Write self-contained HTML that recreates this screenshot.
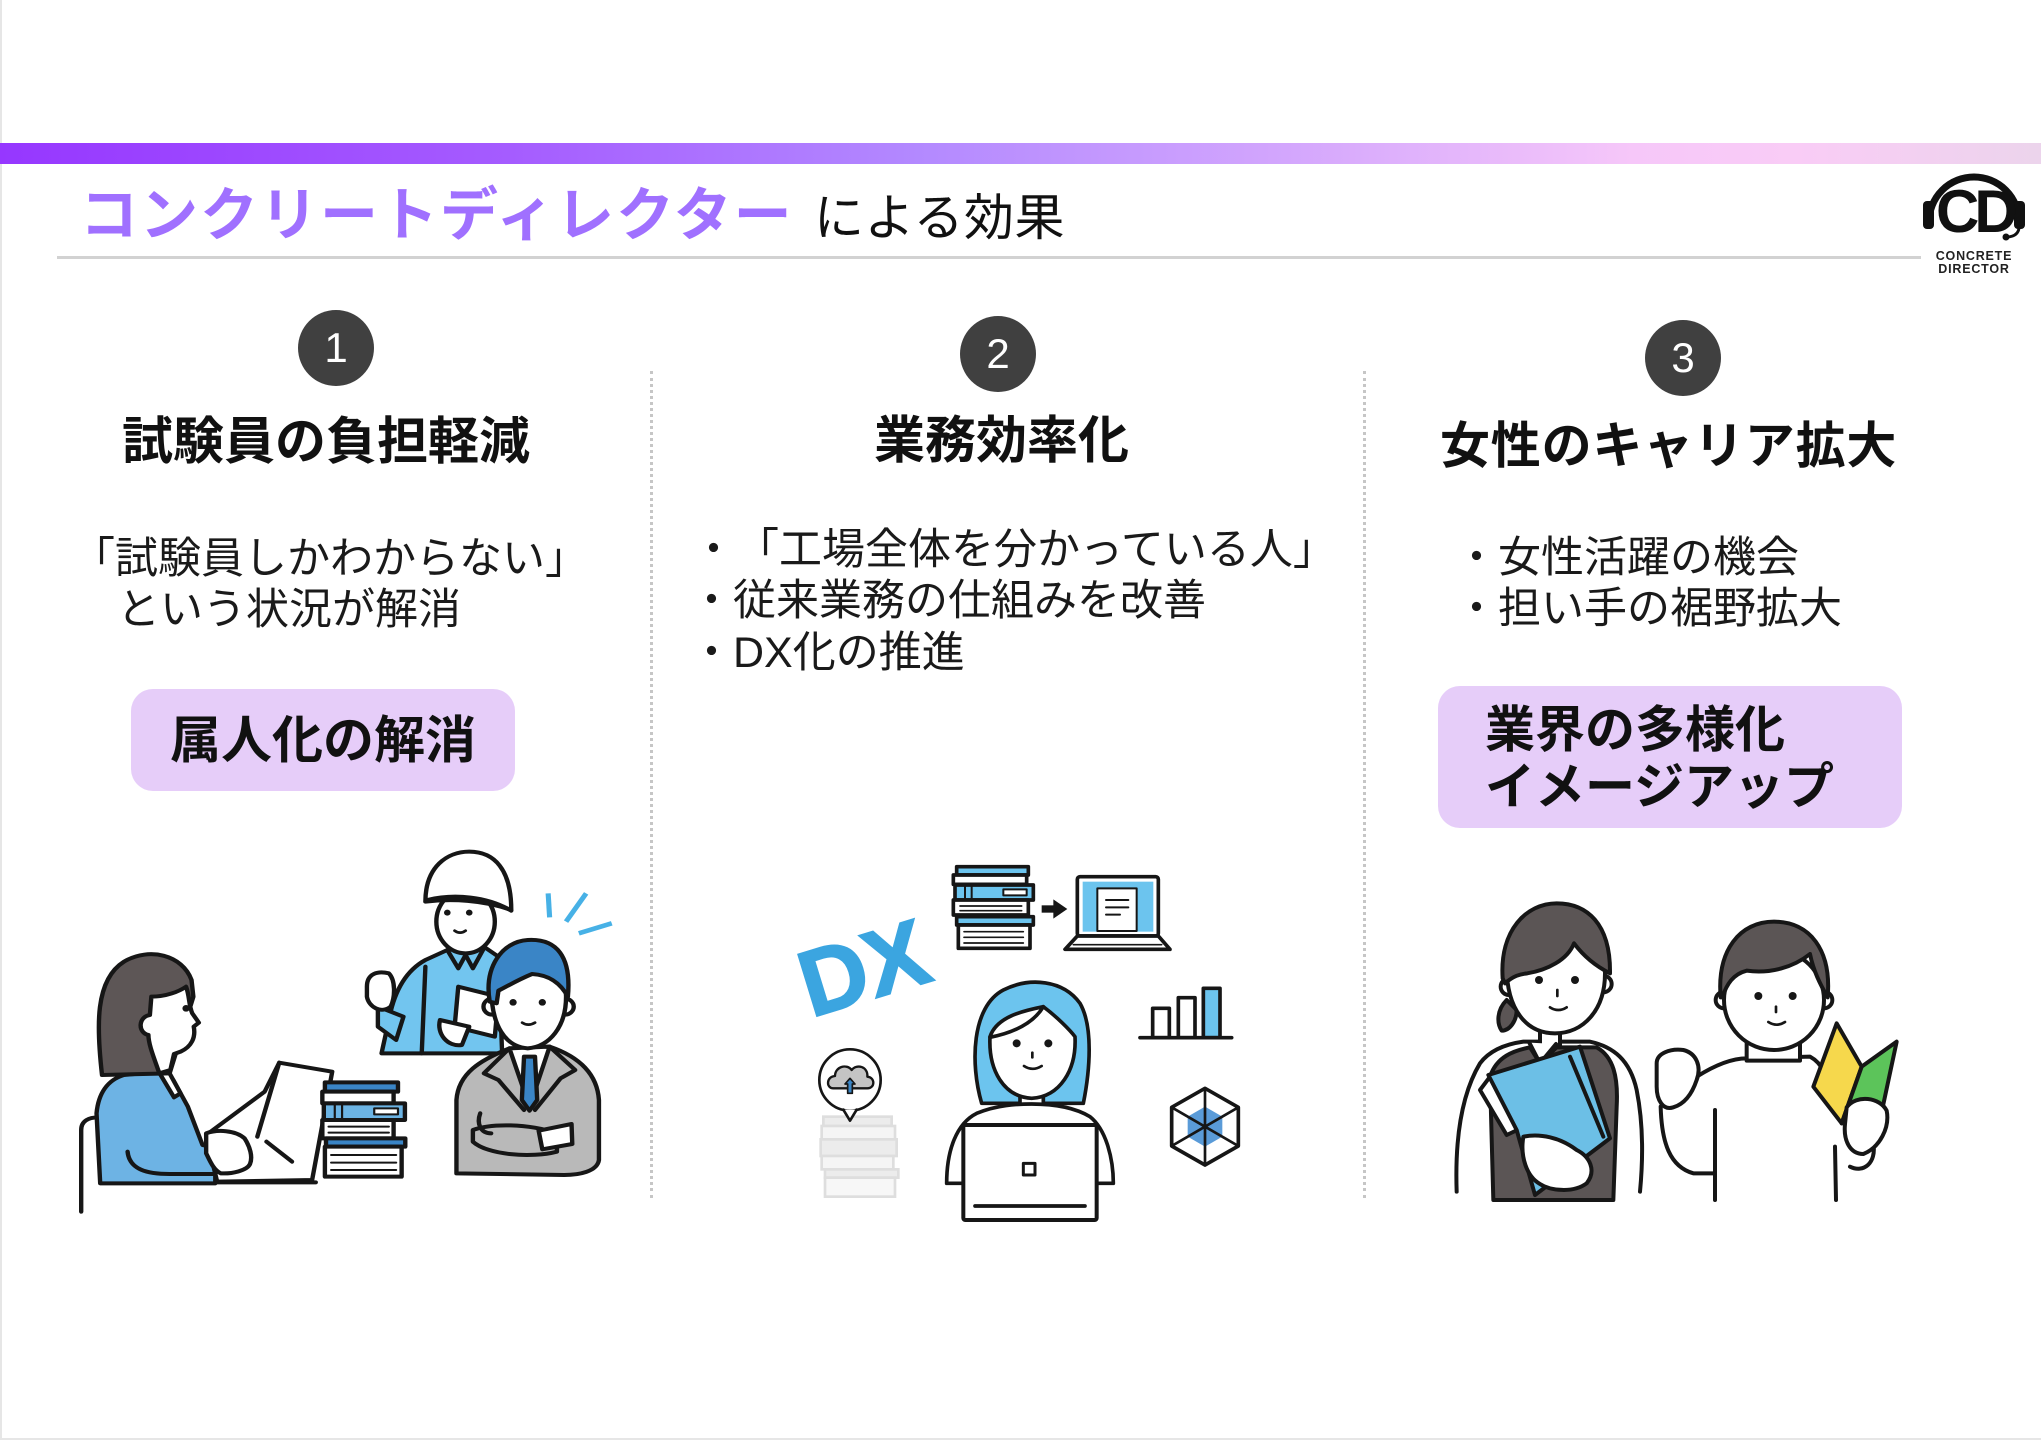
<!DOCTYPE html>
<html lang="ja">
<head>
<meta charset="utf-8">
<style>
  html,body{margin:0;padding:0;background:#fff;}
  body{width:2041px;height:1440px;position:relative;overflow:hidden;
       font-family:"Liberation Sans","Noto Sans CJK JP",sans-serif;color:#1a1a1a;}
  .abs{position:absolute;white-space:nowrap;line-height:1;}
  .bar{position:absolute;left:0;top:143px;width:2041px;height:21px;
       background:linear-gradient(90deg,#9637ff 0%,#a55cff 25%,#b389ff 45%,#d3a6fd 63%,#f6c7f9 80%,#f9ccf6 88%,#ecd4ec 100%);}
  .rule{position:absolute;left:57px;top:256px;width:1864px;height:3px;background:#d2d2d2;}
  .circ{position:absolute;width:76px;height:76px;border-radius:50%;background:#404040;color:#fff;
        font-family:"Liberation Sans",sans-serif;font-size:42px;line-height:76px;text-align:center;}
  .h{font-size:50px;font-weight:700;color:#111;}
  .t{font-size:43px;font-weight:400;color:#1a1a1a;}
  .pill{position:absolute;background:#e6cdf9;border-radius:22px;}
  .div{position:absolute;top:371px;height:827px;border-left:3px dotted #c6c6c6;}
</style>
</head>
<body>
<div style="position:absolute;left:0;top:0;width:2px;height:1440px;background:#e6e6e6;"></div>
<div style="position:absolute;left:0;top:1438px;width:2041px;height:2px;background:#e6e6e6;"></div>

<div class="bar"></div>

<div class="abs" style="left:80px;top:187px;font-size:58px;font-weight:700;color:#a070ff;letter-spacing:2px;">コンクリートディレクター</div>
<div class="abs" style="left:814px;top:193px;font-size:50px;font-weight:400;color:#111;letter-spacing:0.5px;">による効果</div>
<div class="rule"></div>

<!-- logo -->
<svg style="position:absolute;left:0;top:0" width="2041" height="1440" viewBox="0 0 2041 1440">
  <path d="M1929,222 A45,45 0 0 1 2019,222" fill="none" stroke="#111" stroke-width="7"/>
  <rect x="1923" y="201" width="11" height="28" rx="4" fill="#111"/>
  <rect x="2014" y="201" width="11" height="28" rx="4" fill="#111"/>
  <text x="1936" y="232" font-family="Liberation Sans" font-weight="700" font-size="60" letter-spacing="-5" fill="#111">CD</text>
  <path d="M2019,228 Q2018,236 2008,237" fill="none" stroke="#111" stroke-width="3"/>
  <circle cx="2006" cy="237" r="3.5" fill="#111"/>
  <text x="1974" y="260" text-anchor="middle" font-family="Liberation Sans" font-weight="700" font-size="12.5" letter-spacing="0.8" fill="#222">CONCRETE</text>
  <text x="1974" y="273" text-anchor="middle" font-family="Liberation Sans" font-weight="700" font-size="12.5" letter-spacing="0.8" fill="#222">DIRECTOR</text>
</svg>

<!-- dividers -->
<div class="div" style="left:650px;"></div>
<div class="div" style="left:1363px;"></div>

<!-- column 1 -->
<div class="circ" style="left:298px;top:310px;">1</div>
<div class="abs h" style="left:122px;top:416px;font-size:51px;">試験員の負担軽減</div>
<div class="abs t" style="left:72px;top:538px;">「試験員しかわからない」</div>
<div class="abs t" style="left:117px;top:589px;">という状況が解消</div>
<div class="pill" style="left:131px;top:689px;width:384px;height:102px;"></div>
<div class="abs h" style="left:170px;top:715px;font-size:51px;">属人化の解消</div>

<!-- column 2 -->
<div class="circ" style="left:960px;top:316px;">2</div>
<div class="abs h" style="left:874px;top:415px;font-size:51px;">業務効率化</div>
<div class="abs t" style="left:692px;top:529px;">・<span style="display:inline-block;width:1px;"></span>「工場全体を分かっている人」</div>
<div class="abs t" style="left:690px;top:580px;">・従来業務の仕組みを改善</div>
<div class="abs t" style="left:690px;top:632px;">・DX化の推進</div>

<!-- column 3 -->
<div class="circ" style="left:1645px;top:320px;">3</div>
<div class="abs h" style="left:1440px;top:421px;letter-spacing:0.8px;">女性のキャリア拡大</div>
<div class="abs t" style="left:1455px;top:537px;">・女性活躍の機会</div>
<div class="abs t" style="left:1455px;top:588px;">・担い手の裾野拡大</div>
<div class="pill" style="left:1438px;top:686px;width:464px;height:142px;"></div>
<div class="abs h" style="left:1485px;top:705px;">業界の多様化</div>
<div class="abs h" style="left:1485px;top:762px;">イメージアップ</div>

<!-- illustration 1 -->
<svg style="position:absolute;left:60px;top:840px" width="570" height="380" viewBox="0 0 1560 1140" preserveAspectRatio="none">
 <g stroke="#161616" stroke-width="12" stroke-linejoin="round" stroke-linecap="round">
  <path d="M58,1115 L58,870 C58,842 80,832 105,832" fill="none"/>
  <path d="M110,1030 L100,820 C105,760 130,720 175,705 L270,695 L310,720 L350,800 L390,915 L425,922 L425,1030 Z" fill="#6db3e4"/>
  <path d="M185,935 C190,990 240,1002 300,1002 L420,1002" fill="none"/>
  <path d="M270,695 L300,700 L330,760 L312,772 Z" fill="#fff"/>
  <path d="M115,705 C100,560 95,420 175,365 C245,320 335,345 360,420 L365,470 L300,700 Z" fill="#5d5656"/>
  <path d="M250,470 C290,470 325,455 345,440 C355,470 352,495 362,520 L380,548 L366,560 C372,592 360,620 330,635 L312,642 L302,690 L272,700 C256,650 242,612 242,585 C212,578 214,530 246,525 Z" fill="#fff"/>
  <circle cx="345" cy="505" r="10" fill="#161616" stroke="none"/>
  <path d="M400,885 L560,755 L600,668 L745,695 L690,1020 L430,1025 Z" fill="#fff"/>
  <path d="M600,668 L540,890" fill="none"/>
  <path d="M565,905 L635,965" fill="none"/>
  <path d="M400,880 C430,868 480,870 505,895 C520,920 528,950 520,972 C512,992 470,1002 440,1000 C420,990 410,962 400,940 Z" fill="#fff"/>
  <path d="M430,1027 L700,1027" fill="none"/>
  <rect x="725" y="727" width="200" height="28" fill="#3a85c6"/>
  <rect x="718" y="755" width="195" height="35" fill="#fff"/>
  <rect x="722" y="790" width="222" height="50" fill="#6cb4e4"/>
  <rect x="860" y="805" width="65" height="18" fill="#fff" stroke-width="6"/>
  <path d="M752,792 L752,838 M772,792 L772,838" fill="none" stroke-width="6"/>
  <rect x="718" y="840" width="195" height="55" fill="#fff"/>
  <path d="M735,860 L900,860 M735,878 L900,878" fill="none" stroke-width="6"/>
  <rect x="728" y="895" width="217" height="25" fill="#3a85c6"/>
  <rect x="725" y="920" width="210" height="90" fill="#fff"/>
  <path d="M742,945 L920,945 M742,968 L920,968 M742,990 L920,990" fill="none" stroke-width="6"/>
  <path d="M880,640 L900,540 C915,450 950,390 1000,360 L1060,330 L1160,320 L1200,350 L1210,640 Z" fill="#72c5ef"/>
  <path d="M1060,330 L1090,385 L1110,345 L1130,385 L1160,325" fill="#72c5ef"/>
  <path d="M1000,380 L990,640" fill="none"/>
  <ellipse cx="1110" cy="245" rx="80" ry="95" fill="#fff"/>
  <path d="M1000,185 C1000,80 1060,35 1120,35 C1190,35 1235,90 1235,210 C1160,180 1070,175 1000,185 Z" fill="#fff"/>
  <path d="M1005,180 C1080,160 1170,170 1235,212" fill="none"/>
  <circle cx="1060" cy="218" r="9" fill="#161616" stroke="none"/>
  <circle cx="1120" cy="218" r="9" fill="#161616" stroke="none"/>
  <path d="M1080,272 Q1095,284 1110,272" fill="none" stroke-width="8"/>
  <path d="M870,500 L940,530 L920,600 L870,560 Z" fill="#72c5ef"/>
  <path d="M840,440 C840,400 870,392 900,400 C918,420 918,470 905,500 C880,522 845,502 840,470 Z" fill="#fff"/>
  <path d="M1090,440 L1200,470 L1190,590 L1080,560 Z" fill="#fff"/>
  <path d="M1040,540 C1030,580 1060,622 1100,615 L1120,560 Z" fill="#fff"/>
  <path d="M1085,1000 L1085,780 C1090,700 1150,660 1230,625 L1340,620 C1420,650 1470,700 1475,780 L1475,960 C1470,995 1420,1005 1380,1005 Z" fill="#b9b9b9"/>
  <path d="M1230,625 L1285,800 L1340,620 Z" fill="#fff"/>
  <path d="M1270,650 L1300,650 L1306,780 L1285,812 L1264,780 Z" fill="#3a85c6"/>
  <path d="M1230,625 L1160,700 L1200,720 L1270,810 M1340,620 L1410,690 L1370,715 L1300,810" fill="none"/>
  <path d="M1130,870 C1180,850 1280,850 1360,880 L1360,935 C1290,955 1170,945 1130,905 Z" fill="#b9b9b9"/>
  <path d="M1310,872 L1400,852 L1402,912 L1320,928 Z" fill="#fff"/>
  <path d="M1150,820 C1140,850 1150,880 1180,880" fill="none"/>
  <circle cx="1183" cy="500" r="24" fill="#fff"/>
  <circle cx="1382" cy="500" r="24" fill="#fff"/>
  <path d="M1180,440 C1180,380 1230,370 1280,370 C1340,370 1385,400 1385,470 C1385,560 1340,620 1280,625 C1220,620 1180,560 1180,440 Z" fill="#fff"/>
  <path d="M1176,485 C1160,380 1210,305 1280,300 C1360,295 1400,350 1390,470 C1370,430 1340,405 1292,402 C1252,420 1222,440 1200,452 L1195,490 Z" fill="#3a85c6"/>
  <circle cx="1240" cy="487" r="10" fill="#161616" stroke="none"/>
  <circle cx="1320" cy="487" r="10" fill="#161616" stroke="none"/>
  <path d="M1265,548 Q1282,560 1300,548" fill="none" stroke-width="8"/>
 </g>
 <g stroke="#47b1e6" stroke-width="14" stroke-linecap="butt">
  <path d="M1336,160 L1340,232"/>
  <path d="M1385,245 L1440,160"/>
  <path d="M1420,280 L1510,250"/>
 </g>
</svg>

<!-- illustration 2 -->
<svg style="position:absolute;left:790px;top:850px" width="460" height="380" viewBox="0 0 1380 1140" preserveAspectRatio="none">
 <text x="62" y="495" transform="rotate(-17 90 495)" font-family="Liberation Sans" font-weight="700" font-size="280" fill="#3ba5e0" stroke="#3ba5e0" stroke-width="6">DX</text>
 <g fill="#ececec" stroke="#dedede" stroke-width="8">
  <rect x="100" y="800" width="205" height="28"/>
  <rect x="95" y="828" width="220" height="40" fill="#f5f5f5"/>
  <rect x="92" y="868" width="228" height="50"/>
  <rect x="95" y="918" width="215" height="40" fill="#f5f5f5"/>
  <rect x="105" y="958" width="220" height="25"/>
  <rect x="105" y="983" width="210" height="57" fill="#f7f7f7"/>
 </g>
 <g stroke="#161616" stroke-width="11" stroke-linejoin="round" stroke-linecap="round">
  <rect x="500" y="50" width="215" height="25" fill="#6cc4ee"/>
  <rect x="490" y="75" width="220" height="28" fill="#fff"/>
  <rect x="495" y="105" width="235" height="45" fill="#6cc4ee"/>
  <rect x="640" y="118" width="70" height="18" fill="#fff" stroke-width="6"/>
  <path d="M525,107 L525,148 M545,107 L545,148" fill="none" stroke-width="6"/>
  <rect x="490" y="150" width="225" height="45" fill="#fff"/>
  <path d="M510,168 L695,168 M510,182 L695,182" fill="none" stroke-width="5"/>
  <rect x="500" y="200" width="230" height="25" fill="#6cc4ee"/>
  <rect x="505" y="225" width="215" height="70" fill="#fff"/>
  <path d="M522,245 L700,245 M522,262 L700,262 M522,279 L700,279" fill="none" stroke-width="5"/>
  <rect x="755" y="166" width="40" height="22" fill="#161616" stroke="none"/>
  <polygon points="790,148 832,177 790,206" fill="#161616" stroke="none"/>
  <rect x="862" y="80" width="243" height="178" rx="8" fill="#fff"/>
  <rect x="878" y="95" width="212" height="150" fill="#6cc4ee" stroke="none"/>
  <rect x="922" y="115" width="118" height="128" fill="#fff" stroke-width="6"/>
  <path d="M948,150 L1015,150 M948,172 L1015,172 M948,194 L990,194" fill="none" stroke-width="6"/>
  <path d="M862,258 L825,298 L1140,298 L1105,258 Z" fill="#fff"/>
  <path d="M850,284 L1115,284" fill="none" stroke-width="5"/>
  <rect x="1088" y="475" width="50" height="88" fill="#fff"/>
  <rect x="1165" y="443" width="50" height="120" fill="#fff"/>
  <rect x="1240" y="415" width="50" height="148" fill="#6cc4ee"/>
  <path d="M1050,563 L1325,563" fill="none"/>
  <polygon points="1245,770 1297,800 1297,860 1245,890 1193,860 1193,800" fill="#5a9bd8" stroke="none"/>
  <polygon points="1245,715 1345,772 1345,888 1245,945 1145,888 1145,772" fill="none"/>
  <path d="M1245,715 L1245,945 M1345,772 L1145,888 M1345,888 L1145,772" fill="none" stroke-width="8"/>
  <circle cx="180" cy="690" r="92" fill="#fff" stroke-width="8"/>
  <path d="M160,779 L180,812 L200,779" fill="#fff" stroke-width="8"/>
  <path d="M130,715 C108,715 108,680 135,678 C135,650 170,640 185,660 C200,640 235,650 232,680 C256,682 256,715 232,715 Z" fill="#c4c4c4" stroke-width="7"/>
  <polygon points="165,702 180,685 195,702 187,702 187,730 173,730 173,702" fill="#3a85c6" stroke-width="5"/>
  <path d="M575,760 C540,640 545,470 640,420 C720,380 820,390 870,460 C910,530 900,660 880,760 Z" fill="#6cc4ee"/>
  <path d="M690,735 L690,778 L760,778 L760,735" fill="#fff"/>
  <path d="M600,560 C620,500 700,482 760,470 C800,500 840,540 855,560 C860,660 810,740 725,745 C640,740 595,660 600,560 Z" fill="#fff"/>
  <path d="M760,470 C730,520 670,548 600,562" fill="none"/>
  <circle cx="680" cy="580" r="12" fill="#161616" stroke="none"/>
  <circle cx="775" cy="580" r="12" fill="#161616" stroke="none"/>
  <path d="M727,608 L727,622" fill="none" stroke-width="8"/>
  <path d="M702,648 Q728,665 755,648" fill="none" stroke-width="8"/>
  <path d="M470,1000 C470,900 500,820 560,790 C620,765 680,762 725,762 C780,762 850,770 900,800 C950,840 970,930 970,1000 Z" fill="#fff"/>
  <rect x="520" y="825" width="400" height="285" rx="6" fill="#fff" stroke-width="12"/>
  <rect x="700" y="940" width="35" height="35" fill="#fff" stroke-width="9"/>
  <path d="M555,1068 L885,1068" fill="none" stroke-width="11"/>
 </g>
</svg>

<!-- illustration 3 -->
<svg style="position:absolute;left:1440px;top:890px" width="470" height="320" viewBox="0 0 1410 960" preserveAspectRatio="none">
 <g stroke="#161616" stroke-width="12" stroke-linejoin="round" stroke-linecap="round">
  <path d="M50,905 C45,760 60,620 120,520 C150,480 200,462 250,455 L450,455 C520,470 570,510 590,600 C610,700 610,800 600,905" fill="#fff"/>
  <path d="M160,930 L150,560 C170,500 220,482 270,472 L300,520 L350,472 L470,472 C520,500 535,560 530,650 L520,930 Z" fill="#5b5555"/>
  <path d="M300,425 L300,470 L360,470 L360,425" fill="#fff"/>
  <path d="M268,458 L300,520 L348,462" fill="#fff"/>
  <path d="M120,600 L150,560 L232,720 L200,735 Z" fill="#fff"/>
  <path d="M145,555 L420,470 L510,745 L285,915 L230,720 Z" fill="#6cbfe6"/>
  <path d="M390,500 L490,740" fill="none"/>
  <path d="M250,740 C300,730 360,742 410,780 C450,800 470,842 440,880 C400,910 330,902 300,882 C260,860 240,800 250,740 Z" fill="#fff"/>
  <path d="M200,330 C170,360 170,400 185,422 C210,422 230,392 230,360 Z" fill="#5b5555"/>
  <circle cx="207" cy="290" r="25" fill="#fff"/>
  <circle cx="490" cy="282" r="25" fill="#fff"/>
  <path d="M200,230 C200,150 270,120 345,120 C430,120 495,160 495,250 C495,360 430,430 345,430 C260,430 200,360 200,230 Z" fill="#fff"/>
  <path d="M188,265 C178,120 260,40 350,40 C440,40 512,100 510,250 C470,230 432,200 402,160 C382,210 322,240 262,250 C240,252 220,258 195,280 Z" fill="#5b5555"/>
  <circle cx="297" cy="270" r="12" fill="#161616" stroke="none"/>
  <circle cx="405" cy="270" r="12" fill="#161616" stroke="none"/>
  <path d="M352,300 L352,318" fill="none" stroke-width="8"/>
  <path d="M330,352 Q355,368 380,352" fill="none" stroke-width="8"/>
  <path d="M660,960 L660,650 L740,640 L770,560 C830,522 880,505 920,505 L1110,500 C1150,522 1160,560 1162,600 L1190,780 L1190,960 Z" fill="#fff" stroke="none"/>
  <path d="M770,560 C830,522 880,505 920,505 L1110,500 C1150,522 1160,560 1162,600" fill="none"/>
  <path d="M662,650 C665,760 690,830 760,850 L820,850 M825,660 L825,930 M1185,770 L1188,930" fill="none"/>
  <path d="M1300,760 C1310,820 1270,850 1230,830" fill="none"/>
  <path d="M920,440 L920,512 L1080,512 L1080,440" fill="#fff"/>
  <path d="M650,520 C650,490 690,475 730,480 C770,490 785,530 770,570 C760,600 740,640 700,652 C670,662 650,632 650,590 Z" fill="#fff"/>
  <circle cx="852" cy="330" r="25" fill="#fff"/>
  <circle cx="1152" cy="330" r="25" fill="#fff"/>
  <ellipse cx="1002" cy="330" rx="150" ry="150" fill="#fff"/>
  <path d="M842,322 C830,180 900,95 1002,95 C1110,95 1175,180 1163,322 C1140,282 1120,242 1110,192 C1060,232 990,252 920,242 C880,252 860,282 847,322 Z" fill="#5b5555"/>
  <circle cx="955" cy="318" r="12" fill="#161616" stroke="none"/>
  <circle cx="1058" cy="318" r="12" fill="#161616" stroke="none"/>
  <path d="M1008,350 L1008,366" fill="none" stroke-width="8"/>
  <path d="M985,396 Q1010,412 1035,396" fill="none" stroke-width="8"/>
  <path d="M1120,590 L1190,400 L1265,530 L1205,700 Z" fill="#f6d84c"/>
  <path d="M1265,530 L1370,455 L1320,690 L1205,700 Z" fill="#5cc45a"/>
  <path d="M1220,652 C1250,612 1320,622 1340,662 C1350,712 1320,772 1270,792 C1230,792 1210,752 1215,702 Z" fill="#fff"/>
 </g>
</svg>

</body>
</html>
